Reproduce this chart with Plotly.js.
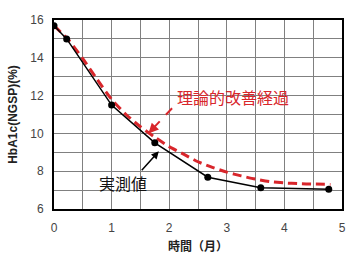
<!DOCTYPE html>
<html>
<head>
<meta charset="utf-8">
<script src="https://cdn.plot.ly/plotly-3.0.1.min.js"></script>
<style>html,body{margin:0;padding:0;background:#fff;}#chart{width:354px;height:260px;}</style>
</head>
<body>
<div id="chart"></div>
<script>
// Measured values (実測値)
const measuredMonths = [0, 0.22, 1.0, 1.75, 2.67, 3.59, 4.77];
const measuredHbA1c = [15.7, 15.0, 11.5, 9.5, 7.68, 7.13, 7.05];
// Theoretical improvement course (理論的改善経過)
const theoryMonths = [0, 0.25, 0.5, 0.75, 1.0, 1.25, 1.5, 1.75, 2.0, 2.25, 2.5, 2.75, 3.0, 3.25, 3.5, 3.75, 4.0, 4.25, 4.5, 4.8];
const theoryHbA1c = [15.7, 14.95, 13.95, 12.85, 11.8, 11.0, 10.35, 9.8, 9.3, 8.9, 8.5, 8.2, 7.95, 7.75, 7.58, 7.45, 7.38, 7.34, 7.32, 7.3];
const xTicks = [0, 1, 2, 3, 4, 5];
const yTicks = [6, 8, 10, 12, 14, 16];
const xTitle = '時間（月）';
const yTitle = 'HbA1c(NGSP)(%)';
const theoryLabel = '理論的改善経過';
const measuredLabel = '実測値';

const jp = '"Noto Sans CJK JP", "Liberation Sans", sans-serif';
const red = '#d8262b';

const traces = [
  {
    x: theoryMonths, y: theoryHbA1c, mode: 'lines', type: 'scatter',
    line: {color: red, width: 3, dash: '9px,5px', shape: 'spline', smoothing: 0.6},
    hoverinfo: 'skip', showlegend: false
  },
  {
    x: measuredMonths, y: measuredHbA1c, mode: 'lines+markers', type: 'scatter',
    line: {color: '#000', width: 1.5},
    marker: {color: '#000', size: 7},
    showlegend: false
  }
];

const axisCommon = {
  showline: true, linecolor: '#000', linewidth: 2, mirror: true,
  showgrid: true, gridcolor: '#808080', gridwidth: 1,
  zeroline: false, ticks: '',
  tickfont: {family: '"Liberation Sans", Arial, sans-serif', size: 12, color: '#444'}
};

const layout = {
  width: 354, height: 260,
  margin: {l: 54, r: 12, t: 20, b: 51},
  paper_bgcolor: '#fff', plot_bgcolor: '#fff',
  xaxis: Object.assign({}, axisCommon, {
    range: [0, 5], tickvals: xTicks, ticktext: xTicks.map(String),
    minor: {dtick: 0.5, showgrid: true, gridcolor: '#808080', gridwidth: 1},
    ticklabelstandoff: 7,
    title: {text: xTitle, font: {family: jp, size: 12, color: '#222', weight: 'bold'}, standoff: 8}
  }),
  yaxis: Object.assign({}, axisCommon, {
    range: [6, 16], tickvals: yTicks, ticktext: yTicks.map(String),
    minor: {dtick: 1, showgrid: true, gridcolor: '#808080', gridwidth: 1},
    ticklabelstandoff: 6,
    title: {text: yTitle, font: {family: '"Liberation Sans", Arial, sans-serif', size: 12, color: '#222', weight: 'bold'}, standoff: 10}
  }),
  shapes: [
    {type: 'line', xref: 'x', yref: 'y', x0: 2.05, y0: 11.33, x1: 1.7, y1: 10.2,
     line: {color: red, width: 2, dash: 'dash'}}
  ],
  annotations: [
    {x: 3.1, y: 11.93, xref: 'x', yref: 'y', text: theoryLabel, showarrow: false,
     font: {family: jp, size: 16, color: red}},
    {x: 1.64, y: 10.0, xref: 'x', yref: 'y', ax: 1.74, ay: 10.32, axref: 'x', ayref: 'y',
     text: '', showarrow: true, arrowhead: 2, arrowsize: 1, arrowwidth: 2, arrowcolor: red},
    {x: 1.2, y: 7.38, xref: 'x', yref: 'y', text: measuredLabel, showarrow: false,
     font: {family: jp, size: 16, color: '#111'}},
    {x: 1.82, y: 9.05, xref: 'x', yref: 'y', ax: 1.5, ay: 7.97, axref: 'x', ayref: 'y',
     text: '', showarrow: true, arrowhead: 2, arrowsize: 1, arrowwidth: 1.5, arrowcolor: '#000'}
  ]
};

Plotly.newPlot('chart', traces, layout, {displayModeBar: false, staticPlot: true});
</script>
</body>
</html>
